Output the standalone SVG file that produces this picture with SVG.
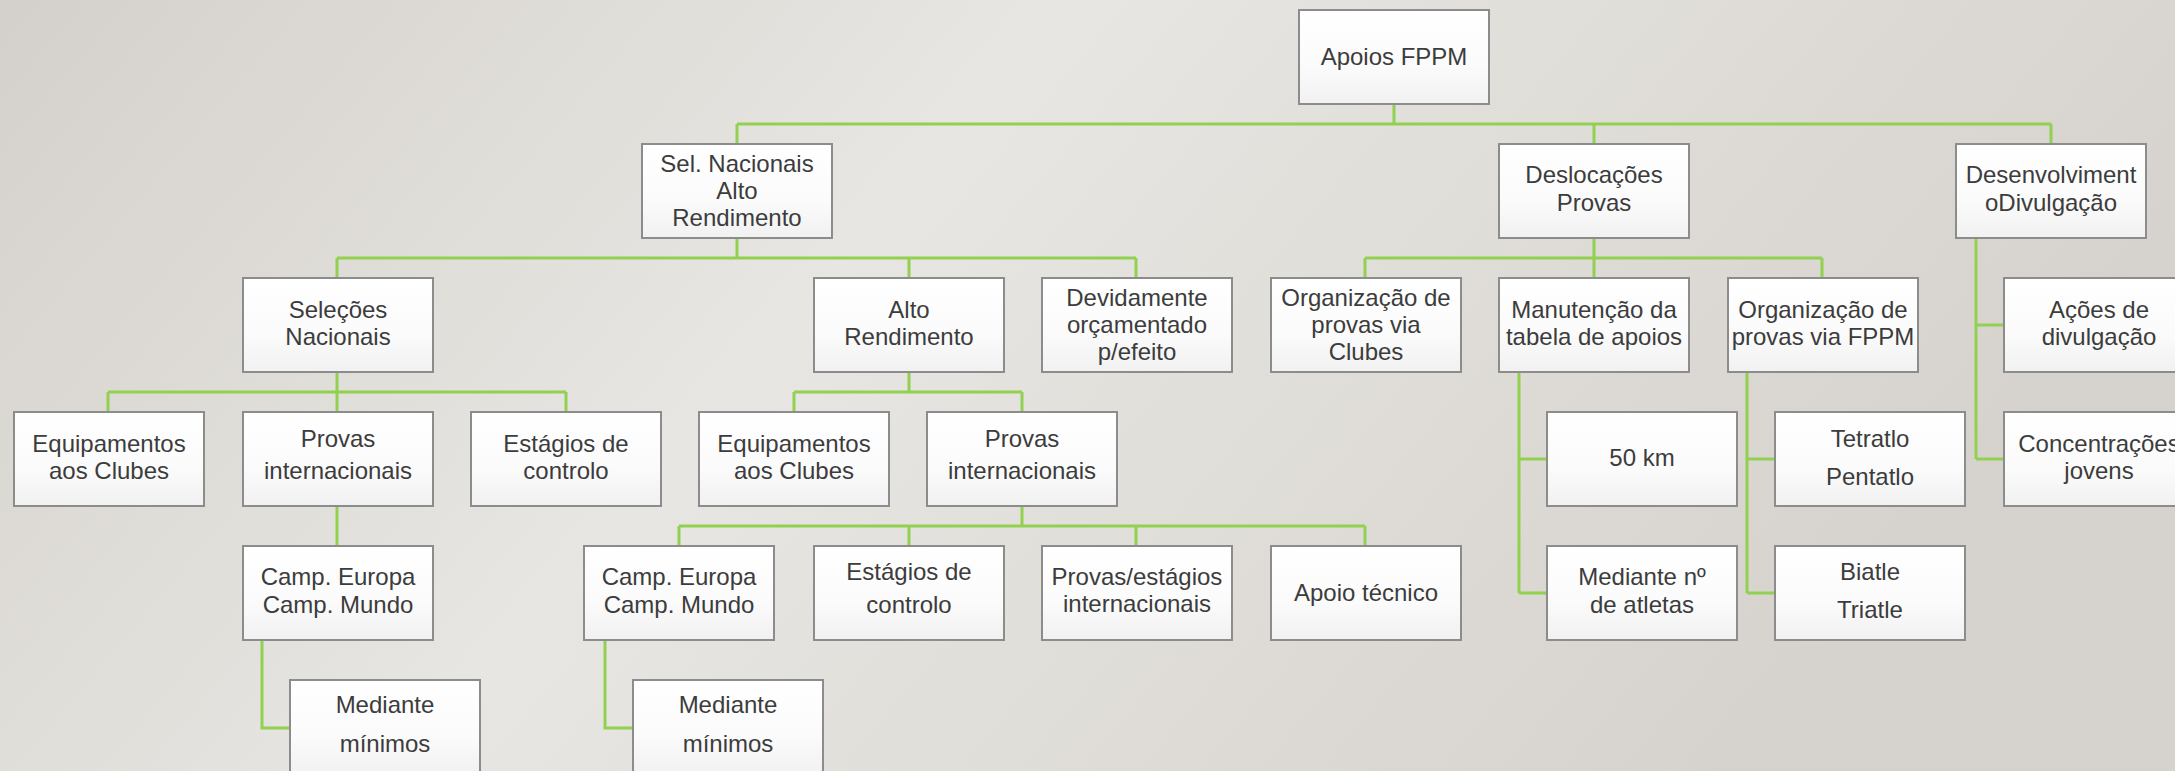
<svg xmlns="http://www.w3.org/2000/svg" width="2175" height="771" viewBox="0 0 2175 771">
<defs>
<linearGradient id="bg" x1="0" y1="0" x2="1" y2="0.3">
<stop offset="0" stop-color="#d4d1cc"/>
<stop offset="0.45" stop-color="#e8e6e2"/>
<stop offset="1" stop-color="#d6d3ce"/>
</linearGradient>
<linearGradient id="boxfill" x1="0" y1="0" x2="0" y2="1">
<stop offset="0" stop-color="#ffffff"/>
<stop offset="0.6" stop-color="#fbfbfb"/>
<stop offset="1" stop-color="#f1f1f1"/>
</linearGradient>
</defs>
<style>
.box{fill:url(#boxfill);stroke:#8c8c8c;stroke-width:2}
.t{font-family:"Liberation Sans",Arial,sans-serif;font-size:24px;fill:#3c3c3c;text-anchor:middle}
.c{fill:none;stroke:#92d050;stroke-width:3;stroke-linejoin:miter}
</style>
<rect x="0" y="0" width="2175" height="771" fill="url(#bg)"/>

<g id="connectors">
<path class="c" d="M1394,104V124M737,124H2051M737,124V144M1594,124V144M2051,124V144"/>
<path class="c" d="M737,238V258M337,258H1136M337,258V278M909,258V278M1136,258V278"/>
<path class="c" d="M1594,238V258M1365,258H1822M1365,258V278M1594,258V278M1822,258V278"/>
<path class="c" d="M1976,238V459M1976,325H2004M1976,459H2004"/>
<path class="c" d="M337,372V392M108,392H566M108,392V412M337,392V412M566,392V412"/>
<path class="c" d="M909,372V392M794,392H1022M794,392V412M1022,392V412"/>
<path class="c" d="M337,506V546"/>
<path class="c" d="M1022,506V526M679,526H1365M679,526V546M909,526V546M1136,526V546M1365,526V546"/>
<path class="c" d="M262,640V728H290"/>
<path class="c" d="M605,640V728H633"/>
<path class="c" d="M1519,372V593M1519,459H1547M1519,593H1547"/>
<path class="c" d="M1747,372V593M1747,459H1775M1747,593H1775"/>
</g>

<g id="n-root"><rect class="box" x="1299" y="10" width="190" height="94"/><text class="t" x="1394" y="65">Apoios FPPM</text></g>

<g id="n-sel"><rect class="box" x="642" y="144" width="190" height="94"/><text class="t" x="737" y="172">Sel. Nacionais</text><text class="t" x="737" y="199">Alto</text><text class="t" x="737" y="226">Rendimento</text></g>
<g id="n-desloc"><rect class="box" x="1499" y="144" width="190" height="94"/><text class="t" x="1594" y="183">Deslocações</text><text class="t" x="1594" y="211">Provas</text></g>
<g id="n-desenv"><rect class="box" x="1956" y="144" width="190" height="94"/><text class="t" x="2051" y="183">Desenvolviment</text><text class="t" x="2051" y="211">oDivulgação</text></g>

<g id="n-selecoes"><rect class="box" x="243" y="278" width="190" height="94"/><text class="t" x="338" y="318">Seleções</text><text class="t" x="338" y="345">Nacionais</text></g>
<g id="n-alto"><rect class="box" x="814" y="278" width="190" height="94"/><text class="t" x="909" y="318">Alto</text><text class="t" x="909" y="345">Rendimento</text></g>
<g id="n-devid"><rect class="box" x="1042" y="278" width="190" height="94"/><text class="t" x="1137" y="306">Devidamente</text><text class="t" x="1137" y="333">orçamentado</text><text class="t" x="1137" y="360">p/efeito</text></g>
<g id="n-orgclubes"><rect class="box" x="1271" y="278" width="190" height="94"/><text class="t" x="1366" y="306">Organização de</text><text class="t" x="1366" y="333">provas via</text><text class="t" x="1366" y="360">Clubes</text></g>
<g id="n-manut"><rect class="box" x="1499" y="278" width="190" height="94"/><text class="t" x="1594" y="318">Manutenção da</text><text class="t" x="1594" y="345">tabela de apoios</text></g>
<g id="n-orgfppm"><rect class="box" x="1728" y="278" width="190" height="94"/><text class="t" x="1823" y="318">Organização de</text><text class="t" x="1823" y="345">provas via FPPM</text></g>
<g id="n-acoes"><rect class="box" x="2004" y="278" width="190" height="94"/><text class="t" x="2099" y="318">Ações de</text><text class="t" x="2099" y="345">divulgação</text></g>

<g id="n-equip1"><rect class="box" x="14" y="412" width="190" height="94"/><text class="t" x="109" y="452">Equipamentos</text><text class="t" x="109" y="479">aos Clubes</text></g>
<g id="n-provas1"><rect class="box" x="243" y="412" width="190" height="94"/><text class="t" x="338" y="447">Provas</text><text class="t" x="338" y="479">internacionais</text></g>
<g id="n-estag1"><rect class="box" x="471" y="412" width="190" height="94"/><text class="t" x="566" y="452">Estágios de</text><text class="t" x="566" y="479">controlo</text></g>
<g id="n-equip2"><rect class="box" x="699" y="412" width="190" height="94"/><text class="t" x="794" y="452">Equipamentos</text><text class="t" x="794" y="479">aos Clubes</text></g>
<g id="n-provas2"><rect class="box" x="927" y="412" width="190" height="94"/><text class="t" x="1022" y="447">Provas</text><text class="t" x="1022" y="479">internacionais</text></g>
<g id="n-50km"><rect class="box" x="1547" y="412" width="190" height="94"/><text class="t" x="1642" y="466">50 km</text></g>
<g id="n-tetra"><rect class="box" x="1775" y="412" width="190" height="94"/><text class="t" x="1870" y="447">Tetratlo</text><text class="t" x="1870" y="485">Pentatlo</text></g>
<g id="n-concentr"><rect class="box" x="2004" y="412" width="190" height="94"/><text class="t" x="2099" y="452">Concentrações</text><text class="t" x="2099" y="479">jovens</text></g>

<g id="n-camp1"><rect class="box" x="243" y="546" width="190" height="94"/><text class="t" x="338" y="585">Camp. Europa</text><text class="t" x="338" y="613">Camp. Mundo</text></g>
<g id="n-camp2"><rect class="box" x="584" y="546" width="190" height="94"/><text class="t" x="679" y="585">Camp. Europa</text><text class="t" x="679" y="613">Camp. Mundo</text></g>
<g id="n-estag2"><rect class="box" x="814" y="546" width="190" height="94"/><text class="t" x="909" y="580">Estágios de</text><text class="t" x="909" y="613">controlo</text></g>
<g id="n-provest"><rect class="box" x="1042" y="546" width="190" height="94"/><text class="t" x="1137" y="585">Provas/estágios</text><text class="t" x="1137" y="612">internacionais</text></g>
<g id="n-apoio"><rect class="box" x="1271" y="546" width="190" height="94"/><text class="t" x="1366" y="601">Apoio técnico</text></g>
<g id="n-mediante-n"><rect class="box" x="1547" y="546" width="190" height="94"/><text class="t" x="1642" y="585">Mediante nº</text><text class="t" x="1642" y="613">de atletas</text></g>
<g id="n-biatle"><rect class="box" x="1775" y="546" width="190" height="94"/><text class="t" x="1870" y="580">Biatle</text><text class="t" x="1870" y="618">Triatle</text></g>

<g id="n-med1"><rect class="box" x="290" y="680" width="190" height="94"/><text class="t" x="385" y="713">Mediante</text><text class="t" x="385" y="752">mínimos</text></g>
<g id="n-med2"><rect class="box" x="633" y="680" width="190" height="94"/><text class="t" x="728" y="713">Mediante</text><text class="t" x="728" y="752">mínimos</text></g>
</svg>
